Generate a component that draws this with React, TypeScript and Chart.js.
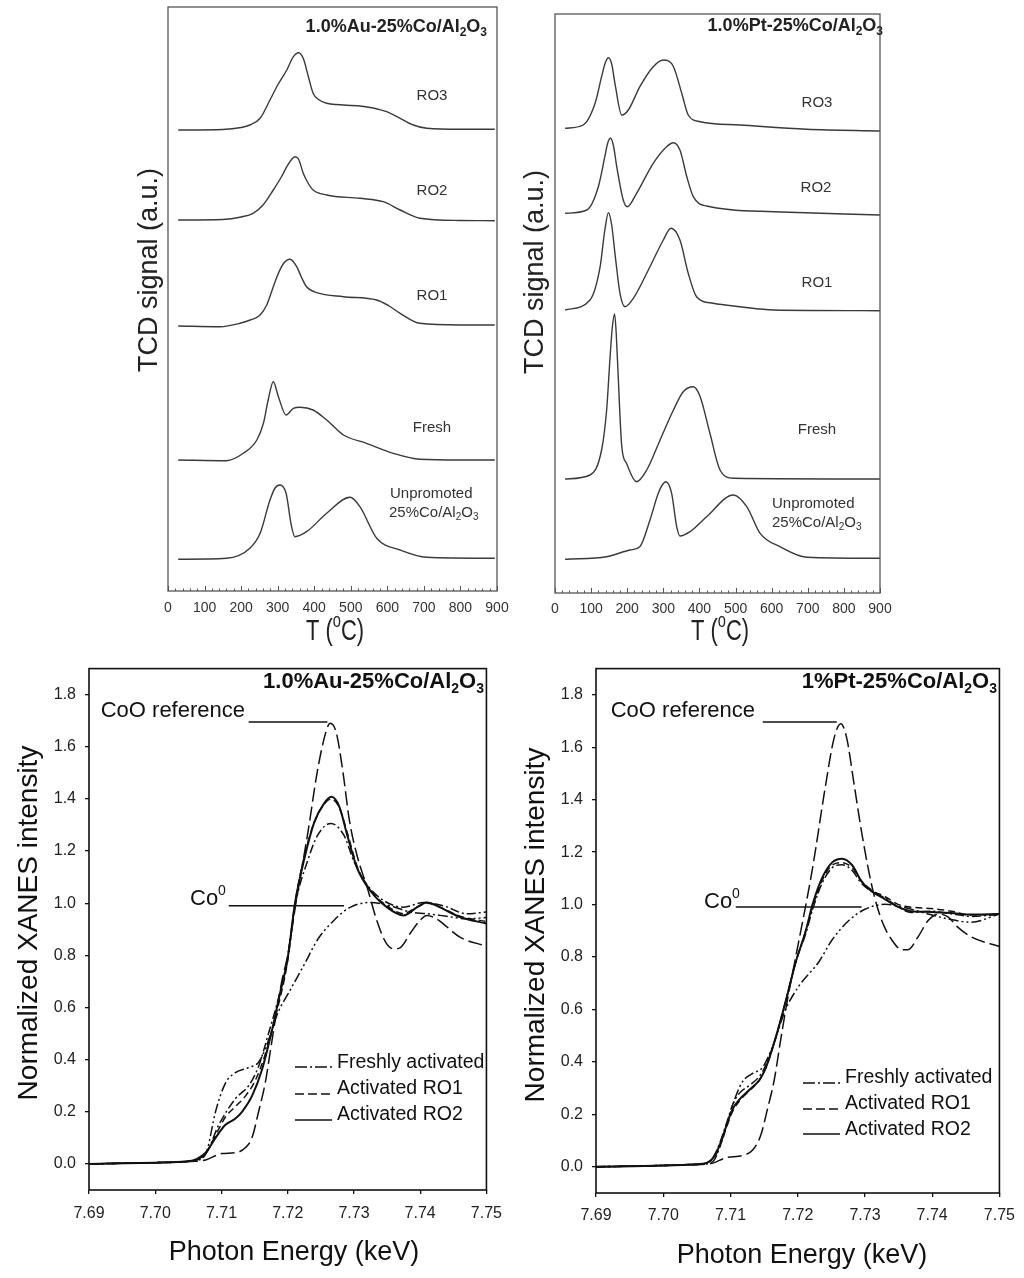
import React, { useEffect, useRef } from "react";
import { Chart, registerables } from "chart.js";

Chart.register(...registerables);

const FONT = "'Liberation Sans', Arial, Helvetica, sans-serif";

// ---------------- TPR (top panels) ----------------
const tprXTicks = [0, 100, 200, 300, 400, 500, 600, 700, 800, 900];
const tprXLabels = ["0", "100", "200", "300", "400", "500", "600", "700", "800", "900"];

// 1.0%Au-25%Co/Al2O3 TPR profiles (signal above own baseline, a.u.)
const auRO3T = [28, 150, 200, 224, 252, 279, 300, 325, 343, 357, 370, 384, 397, 411, 434, 525, 598, 635, 671, 708, 800, 894];
const auRO3S = [0, 0.05, 0.25, 0.5, 1.17, 3.0, 4.5, 6.0, 7.33, 7.73, 7.17, 5.33, 3.67, 3.07, 2.67, 2.4, 1.83, 1.17, 0.5, 0.17, 0.07, 0.07];
const auRO2T = [28, 150, 200, 233, 260, 288, 310, 325, 337, 347, 357, 370, 383, 397, 434, 525, 589, 635, 689, 800, 894];
const auRO2S = [0, 0.05, 0.3, 0.67, 1.5, 3.0, 4.3, 5.33, 6.0, 6.33, 6.1, 4.67, 3.7, 3.0, 2.5, 2.17, 1.83, 1.0, 0.17, -0.05, -0.07];
const auRO1T = [28, 142, 197, 225, 252, 270, 285, 300, 315, 334, 352, 366, 379, 407, 480, 571, 605, 635, 689, 800, 894];
const auRO1S = [-0.1, -0.17, 0.17, 0.5, 1.0, 2.0, 3.5, 5.0, 6.1, 6.57, 5.83, 4.7, 3.83, 3.23, 2.83, 2.5, 1.9, 1.17, 0.17, 0, 0];
const auFreshT = [28, 160, 206, 243, 261, 274, 288, 302, 323, 343, 361, 397, 434, 480, 543, 616, 689, 800, 894];
const auFreshS = [0, -0.07, 0.67, 2.0, 3.67, 6.0, 7.83, 6.33, 4.5, 5.17, 5.27, 5.0, 4.0, 2.5, 1.67, 0.67, 0.07, 0, 0];
const auUnpT = [28, 160, 224, 252, 279, 293, 306, 323, 338, 347, 379, 434, 498, 525, 571, 635, 708, 894];
const auUnpS = [0, 0.1, 1.1, 2.6, 5.93, 7.13, 7.43, 6.6, 3.26, 2.26, 2.76, 4.6, 6.2, 5.26, 2.1, 0.93, 0.2, 0.1];
// stacking offsets: RO3, RO2, RO1, Fresh, Unpromoted
const auOffsets = [46.1, 37.1, 26.6, 13.1, 3.17];

// 1.0%Pt-25%Co/Al2O3 TPR profiles
const ptRO3T = [28, 78, 111, 129, 139, 148, 157, 166, 185, 203, 235, 272, 300, 328, 351, 369, 402, 512, 697, 900];
const ptRO3S = [0, 0.33, 2.5, 5.16, 6.53, 7.06, 6.43, 4.5, 1.33, 1.83, 4.16, 6.16, 6.83, 6.16, 3.5, 1.33, 0.66, 0.33, -0.1, -0.27];
const ptRO2T = [28, 88, 120, 138, 146, 154, 162, 171, 189, 200, 226, 272, 309, 328, 346, 365, 383, 420, 605, 900];
const ptRO2S = [0, 0.33, 2.66, 5.66, 7.03, 7.5, 6.73, 4.66, 1.33, 0.66, 2.0, 5.0, 6.66, 7.06, 6.33, 3.66, 1.66, 0.73, 0.16, -0.17];
const ptRO1T = [28, 97, 125, 138, 148, 157, 166, 180, 194, 217, 263, 300, 321, 346, 369, 392, 438, 512, 605, 900];
const ptRO1S = [0, 1.0, 4.33, 8.0, 9.73, 8.5, 5.67, 1.67, 0.33, 1.17, 4.33, 7.0, 8.17, 7.0, 3.67, 1.33, 0.67, 0.33, 0, -0.07];
const ptFreshT = [28, 97, 129, 143, 152, 158, 165, 169, 173, 185, 198, 226, 254, 291, 328, 355, 383, 402, 429, 457, 494, 900];
const ptFreshS = [0, 0.4, 2.9, 6.9, 11.9, 14.9, 16.5, 14.9, 11.9, 3.23, 1.57, -0.27, 0.9, 3.9, 6.9, 8.73, 9.23, 8.23, 4.57, 0.9, 0.07, 0];
const ptUnpT = [28, 143, 208, 235, 263, 286, 297, 307, 323, 337, 346, 374, 420, 494, 531, 568, 623, 697, 900];
const ptUnpS = [0, 0.26, 0.93, 1.26, 3.93, 6.6, 7.43, 7.76, 6.6, 3.26, 2.33, 2.76, 4.26, 6.43, 5.26, 2.6, 1.26, 0.2, 0.1];
const ptOffsets = [46.47, 37.97, 28.3, 11.4, 3.37];

// ---------------- XANES (bottom panels) ----------------
const xanesXTicks = [7.69, 7.7, 7.71, 7.72, 7.73, 7.74, 7.75];
const xanesXLabels = ["7.69", "7.70", "7.71", "7.72", "7.73", "7.74", "7.75"];
const xanesYTicks = [0, 0.2, 0.4, 0.6, 0.8, 1.0, 1.2, 1.4, 1.6, 1.8];
const xanesYLabels = ["0.0", "0.2", "0.4", "0.6", "0.8", "1.0", "1.2", "1.4", "1.6", "1.8"];

// Au panel
const auCoOE = [7.69, 7.7, 7.706, 7.7076, 7.7101, 7.7121, 7.7136, 7.7146, 7.7156, 7.7166, 7.7173, 7.7181, 7.7191, 7.72, 7.7213, 7.7231, 7.7245, 7.7258, 7.7264, 7.7273, 7.7283, 7.7293, 7.7305, 7.732, 7.7335, 7.7348, 7.736, 7.737, 7.7385, 7.74, 7.741, 7.7425, 7.744, 7.746, 7.75];
const auCoO = [0, 0.005, 0.01, 0.015, 0.04, 0.043, 0.062, 0.1, 0.2, 0.31, 0.42, 0.55, 0.7, 0.8, 1.01, 1.28, 1.51, 1.66, 1.69, 1.657, 1.51, 1.32, 1.18, 1.06, 0.93, 0.85, 0.825, 0.83, 0.885, 0.935, 0.953, 0.94, 0.91, 0.87, 0.835];
const auFoilE = [7.69, 7.7, 7.705, 7.707, 7.7078, 7.7091, 7.7106, 7.7121, 7.7141, 7.7156, 7.7166, 7.7186, 7.72, 7.7226, 7.7245, 7.727, 7.7295, 7.7325, 7.7355, 7.7385, 7.741, 7.744, 7.747, 7.75];
const auFoil = [0, 0.005, 0.01, 0.02, 0.05, 0.2, 0.31, 0.35, 0.37, 0.39, 0.44, 0.585, 0.65, 0.77, 0.86, 0.935, 0.985, 1.003, 0.99, 0.966, 0.96, 0.95, 0.94, 0.945];
const auFreshE = [7.69, 7.7, 7.705, 7.7076, 7.7096, 7.7121, 7.7141, 7.7156, 7.7171, 7.7186, 7.7198, 7.7211, 7.7231, 7.7245, 7.7265, 7.7285, 7.73, 7.732, 7.7345, 7.7375, 7.7405, 7.7435, 7.747, 7.75];
const auFresh = [0, 0.005, 0.01, 0.037, 0.15, 0.25, 0.3, 0.374, 0.5, 0.635, 0.76, 0.99, 1.17, 1.26, 1.306, 1.26, 1.16, 1.07, 1.01, 0.985, 1.003, 0.99, 0.96, 0.966];
const auRO1E = [7.69, 7.7, 7.705, 7.7076, 7.7091, 7.7106, 7.7121, 7.7136, 7.7151, 7.7166, 7.7181, 7.72, 7.7211, 7.7226, 7.724, 7.7255, 7.7266, 7.7278, 7.729, 7.7305, 7.7325, 7.735, 7.7375, 7.7395, 7.741, 7.743, 7.746, 7.75];
const auRO1 = [0, 0.005, 0.01, 0.04, 0.11, 0.18, 0.22, 0.26, 0.32, 0.42, 0.56, 0.78, 1.0, 1.19, 1.31, 1.38, 1.4, 1.365, 1.27, 1.14, 1.05, 0.99, 0.96, 0.985, 1.0, 0.985, 0.95, 0.93];
const auRO2E = [7.69, 7.7, 7.705, 7.7076, 7.7091, 7.7106, 7.7121, 7.7131, 7.7146, 7.7161, 7.7176, 7.7188, 7.72, 7.7211, 7.7226, 7.724, 7.7255, 7.7266, 7.7278, 7.729, 7.7305, 7.7325, 7.735, 7.7375, 7.7395, 7.741, 7.743, 7.746, 7.75];
const auRO2 = [0, 0.005, 0.01, 0.043, 0.1, 0.15, 0.174, 0.2, 0.26, 0.36, 0.51, 0.65, 0.79, 1.0, 1.18, 1.31, 1.383, 1.408, 1.37, 1.26, 1.134, 1.047, 0.984, 0.953, 0.984, 1.003, 0.984, 0.947, 0.922];

// Pt panel
const ptCoOE = [7.69, 7.7, 7.7064, 7.7074, 7.7094, 7.7118, 7.7133, 7.7145, 7.7155, 7.7165, 7.7175, 7.7185, 7.7197, 7.7222, 7.7241, 7.7254, 7.7264, 7.7273, 7.7283, 7.7296, 7.7311, 7.7325, 7.734, 7.7355, 7.7364, 7.7379, 7.7394, 7.7409, 7.7424, 7.7438, 7.7458, 7.75];
const ptCoO = [0, 0.005, 0.01, 0.014, 0.035, 0.043, 0.064, 0.12, 0.22, 0.33, 0.49, 0.64, 0.8, 1.138, 1.448, 1.634, 1.69, 1.634, 1.473, 1.262, 1.063, 0.939, 0.865, 0.828, 0.828, 0.877, 0.939, 0.964, 0.952, 0.914, 0.877, 0.84];
const ptFoilE = [7.69, 7.7, 7.706, 7.7074, 7.7094, 7.7108, 7.7118, 7.7133, 7.7148, 7.7162, 7.7182, 7.7202, 7.7231, 7.7251, 7.7276, 7.73, 7.733, 7.7359, 7.7394, 7.7424, 7.7458, 7.75];
const ptFoil = [0, 0.005, 0.01, 0.02, 0.157, 0.27, 0.325, 0.356, 0.38, 0.455, 0.6, 0.69, 0.78, 0.865, 0.939, 0.982, 1.001, 0.989, 0.964, 0.945, 0.933, 0.964];
const ptEdgeE = [7.69, 7.7, 7.705, 7.7064, 7.7074, 7.7084, 7.7094, 7.7103, 7.7113, 7.7128, 7.7143, 7.7153, 7.7167, 7.7182, 7.7197, 7.7212, 7.7222, 7.7236, 7.7251, 7.7266, 7.7281, 7.7295, 7.731, 7.733, 7.735, 7.7369, 7.7399, 7.7428, 7.7458, 7.75];
const ptFresh = [0, 0.005, 0.01, 0.015, 0.035, 0.09, 0.165, 0.235, 0.28, 0.31, 0.345, 0.39, 0.49, 0.63, 0.78, 0.89, 0.98, 1.08, 1.14, 1.152, 1.13, 1.08, 1.05, 1.025, 0.99, 0.97, 0.975, 0.965, 0.955, 0.963];
const ptRO1 = [0, 0.005, 0.01, 0.014, 0.03, 0.075, 0.15, 0.21, 0.25, 0.29, 0.33, 0.38, 0.49, 0.63, 0.78, 0.9, 0.99, 1.09, 1.15, 1.16, 1.14, 1.09, 1.055, 1.03, 1.0, 0.99, 0.985, 0.975, 0.96, 0.964];
const ptRO2 = [0, 0.005, 0.01, 0.014, 0.033, 0.083, 0.157, 0.219, 0.256, 0.293, 0.331, 0.38, 0.49, 0.63, 0.78, 0.9, 1.0, 1.1, 1.16, 1.175, 1.15, 1.088, 1.051, 1.02, 0.99, 0.975, 0.972, 0.968, 0.962, 0.964];

const legendLabels = ["Freshly activated", "Activated RO1", "Activated RO2"];

// ---------------- helpers ----------------
type Seg = { t: string; s?: "sub" | "sup" };
type TextItem = {
  x: number; y: number; segs: Seg[]; size: number; bold?: boolean;
  align?: "left" | "right" | "center"; sx?: number; rot?: boolean; color?: string;
};

const DASH_COO = [14, 5];
const DASH_RO1 = [7, 4];
const DASH_FRESH = [9, 3, 2, 3];
const DASH_FOIL = [10, 3, 2, 3, 2, 3];

function pts(xs: number[], ys: number[], off = 0) {
  return xs.map((x, i) => ({ x, y: ys[i] + off }));
}

function drawRich(ctx: CanvasRenderingContext2D, it: TextItem) {
  const size = it.size;
  const fontFor = (s?: string) => `${it.bold ? "bold " : ""}${s ? Math.round(size * 0.65) : size}px ${FONT}`;
  ctx.save();
  ctx.translate(it.x, it.y);
  if (it.sx) ctx.scale(it.sx, 1);
  if (it.rot) ctx.rotate(-Math.PI / 2);
  let total = 0;
  const widths = it.segs.map((seg) => {
    ctx.font = fontFor(seg.s);
    const w = ctx.measureText(seg.t).width;
    total += w;
    return w;
  });
  let cx = it.align === "right" ? -total : it.align === "center" ? -total / 2 : 0;
  const baseY = it.rot ? size * 0.36 : 0;
  ctx.fillStyle = it.color || "#111";
  ctx.textAlign = "left";
  ctx.textBaseline = "alphabetic";
  it.segs.forEach((seg, i) => {
    ctx.font = fontFor(seg.s);
    const dy = seg.s === "sub" ? size * 0.22 : seg.s === "sup" ? -size * 0.45 : 0;
    ctx.fillText(seg.t, cx, baseY + dy);
    cx += widths[i];
  });
  ctx.restore();
}

function decoPlugin(d: any) {
  return {
    id: "deco",
    afterDraw(chart: any) {
      const ctx = chart.ctx as CanvasRenderingContext2D;
      const { left, right, top, bottom } = chart.chartArea;
      const xs = chart.scales.x;
      const ys = chart.scales.y;
      ctx.save();
      // frame
      ctx.strokeStyle = d.frameColor;
      ctx.lineWidth = d.frameWidth;
      ctx.setLineDash([]);
      ctx.strokeRect(left, top, right - left, bottom - top);
      // inward ticks for TPR
      if (d.minorStep) {
        ctx.lineWidth = 1;
        for (let k = 0; k <= 900 / d.minorStep; k++) {
          const v = k * d.minorStep;
          const px = Math.round(xs.getPixelForValue(v)) + 0.5;
          const len = v % 100 === 0 ? 5 : 2.5;
          ctx.beginPath();
          ctx.moveTo(px, bottom);
          ctx.lineTo(px, bottom - len);
          ctx.stroke();
        }
      }
      // annotation lines (data coords)
      (d.lines || []).forEach((l: any) => {
        ctx.strokeStyle = "#111";
        ctx.lineWidth = 1.5;
        ctx.setLineDash([]);
        const y = ys.getPixelForValue(l.y);
        ctx.beginPath();
        ctx.moveTo(xs.getPixelForValue(l.x0), y);
        ctx.lineTo(xs.getPixelForValue(l.x1), y);
        ctx.stroke();
      });
      // legend
      if (d.legend) {
        const lg = d.legend;
        lg.rows.forEach((r: any, i: number) => {
          ctx.strokeStyle = "#111";
          ctx.lineWidth = 1.6;
          ctx.setLineDash(r.dash);
          ctx.beginPath();
          ctx.moveTo(lg.x0, r.y);
          ctx.lineTo(lg.x1, r.y);
          ctx.stroke();
          ctx.setLineDash([]);
          drawRich(ctx, { x: lg.textX, y: r.ty, segs: [{ t: legendLabels[i] }], size: lg.size, color: "#111" });
        });
      }
      (d.texts || []).forEach((t: TextItem) => drawRich(ctx, t));
      ctx.restore();
    },
  };
}

function tprConfig(p: any) {
  const ds = p.series.map((s: any) => ({
    data: pts(s[0], s[1], s[2]),
    borderColor: "#3a3a3a",
    borderWidth: 1.4,
    pointRadius: 0,
    fill: false,
    cubicInterpolationMode: "monotone",
  }));
  return {
    type: "line",
    data: { datasets: ds },
    options: {
      responsive: false,
      animation: false,
      devicePixelRatio: 1,
      events: [],
      layout: { padding: p.padding },
      plugins: { legend: { display: false }, tooltip: { enabled: false } },
      scales: {
        x: {
          type: "linear",
          min: 0,
          max: 900,
          afterBuildTicks: (s: any) => { s.ticks = tprXTicks.map((v) => ({ value: v })); },
          afterFit: (s: any) => { s.height = p.xHeight; },
          ticks: {
            autoSkip: false, maxRotation: 0, padding: p.tickPad, color: "#333",
            font: { family: FONT, size: 14 },
            callback: (_v: any, i: number) => tprXLabels[i],
          },
          grid: { display: false, drawTicks: false },
          border: { display: false },
        },
        y: {
          type: "linear",
          min: 0,
          max: p.yMax,
          afterFit: (s: any) => { s.width = p.yWidth; },
          ticks: { display: false },
          grid: { display: false, drawTicks: false },
          border: { display: false },
        },
      },
    },
    plugins: [decoPlugin(p.deco)],
  };
}

function xanesConfig(p: any) {
  const ds = p.series.map((s: any) => ({
    data: pts(s[0], s[1]),
    borderColor: "#111",
    borderWidth: s[3],
    borderDash: s[2],
    pointRadius: 0,
    fill: false,
    cubicInterpolationMode: "monotone",
  }));
  return {
    type: "line",
    data: { datasets: ds },
    options: {
      responsive: false,
      animation: false,
      devicePixelRatio: 1,
      events: [],
      layout: { padding: p.padding },
      plugins: { legend: { display: false }, tooltip: { enabled: false } },
      scales: {
        x: {
          type: "linear",
          min: 7.69,
          max: 7.75,
          afterBuildTicks: (s: any) => { s.ticks = xanesXTicks.map((v) => ({ value: v })); },
          afterFit: (s: any) => { s.height = p.xHeight; },
          ticks: {
            autoSkip: false, maxRotation: 0, padding: p.xPad, color: "#222",
            font: { family: FONT, size: 16 },
            callback: (_v: any, i: number) => xanesXLabels[i],
          },
          grid: { display: true, drawOnChartArea: false, drawTicks: true, tickLength: 4, color: "#111", lineWidth: 1.3 },
          border: { display: false },
        },
        y: {
          type: "linear",
          min: -0.1,
          max: 1.9,
          afterBuildTicks: (s: any) => { s.ticks = xanesYTicks.map((v) => ({ value: v })); },
          afterFit: (s: any) => { s.width = p.yWidth; },
          ticks: {
            autoSkip: false, padding: p.yPad, color: "#222",
            font: { family: FONT, size: 16 },
            callback: (_v: any, i: number) => xanesYLabels[i],
          },
          grid: { display: true, drawOnChartArea: false, drawTicks: true, tickLength: 4, color: "#111", lineWidth: 1.3 },
          border: { display: false },
        },
      },
    },
    plugins: [decoPlugin(p.deco)],
  };
}

function Panel(props: { left: number; top: number; width: number; height: number; build: () => any }) {
  const ref = useRef<HTMLCanvasElement>(null);
  useEffect(() => {
    const chart = new Chart(ref.current as HTMLCanvasElement, props.build());
    return () => chart.destroy();
  }, []);
  return (
    <canvas
      ref={ref}
      width={props.width}
      height={props.height}
      style={{ position: "absolute", left: props.left, top: props.top, width: props.width, height: props.height }}
    />
  );
}

const G = "#333";
const sub2: Seg[] = [{ t: "2", s: "sub" }];

function buildAuTPR() {
  return tprConfig({
    series: [
      [auRO3T, auRO3S, auOffsets[0]],
      [auRO2T, auRO2S, auOffsets[1]],
      [auRO1T, auRO1S, auOffsets[2]],
      [auFreshT, auFreshS, auOffsets[3]],
      [auUnpT, auUnpS, auOffsets[4]],
    ],
    padding: { left: 0, top: 7, right: 23, bottom: 0 },
    yWidth: 168,
    xHeight: 59,
    yMax: 58.4,
    tickPad: 9,
    deco: {
      frameColor: "#555",
      frameWidth: 1.3,
      minorStep: 20,
      texts: [
        { x: 487, y: 32, segs: [{ t: "1.0%Au-25%Co/Al" }, ...sub2, { t: "O" }, { t: "3", s: "sub" }], size: 18, bold: true, align: "right", color: "#222" },
        { x: 432, y: 100, segs: [{ t: "RO3" }], size: 15, align: "center", color: G },
        { x: 432, y: 195, segs: [{ t: "RO2" }], size: 15, align: "center", color: G },
        { x: 432, y: 300, segs: [{ t: "RO1" }], size: 15, align: "center", color: G },
        { x: 432, y: 432, segs: [{ t: "Fresh" }], size: 15, align: "center", color: G },
        { x: 390, y: 498, segs: [{ t: "Unpromoted" }], size: 15, align: "left", color: G },
        { x: 389, y: 517, segs: [{ t: "25%Co/Al" }, ...sub2, { t: "O" }, { t: "3", s: "sub" }], size: 15, align: "left", color: G },
        { x: 335, y: 640, segs: [{ t: "T (" }, { t: "o", s: "sup" }, { t: "C)" }], size: 30, align: "center", sx: 0.73, color: "#222" },
        { x: 147, y: 270, segs: [{ t: "TCD signal (a.u.)" }], size: 27, align: "center", rot: true, color: "#222" },
      ],
    },
  });
}

function buildPtTPR() {
  return tprConfig({
    series: [
      [ptRO3T, ptRO3S, ptOffsets[0]],
      [ptRO2T, ptRO2S, ptOffsets[1]],
      [ptRO1T, ptRO1S, ptOffsets[2]],
      [ptFreshT, ptFreshS, ptOffsets[3]],
      [ptUnpT, ptUnpS, ptOffsets[4]],
    ],
    padding: { left: 0, top: 14, right: 144, bottom: 0 },
    yWidth: 35,
    xHeight: 57,
    yMax: 57.9,
    tickPad: 8,
    deco: {
      frameColor: "#555",
      frameWidth: 1.3,
      minorStep: 20,
      texts: [
        { x: 363, y: 31, segs: [{ t: "1.0%Pt-25%Co/Al" }, ...sub2, { t: "O" }, { t: "3", s: "sub" }], size: 18, bold: true, align: "right", color: "#222" },
        { x: 297, y: 107, segs: [{ t: "RO3" }], size: 15, align: "center", color: G },
        { x: 296, y: 192, segs: [{ t: "RO2" }], size: 15, align: "center", color: G },
        { x: 297, y: 287, segs: [{ t: "RO1" }], size: 15, align: "center", color: G },
        { x: 297, y: 434, segs: [{ t: "Fresh" }], size: 15, align: "center", color: G },
        { x: 252, y: 508, segs: [{ t: "Unpromoted" }], size: 15, align: "left", color: G },
        { x: 252, y: 527, segs: [{ t: "25%Co/Al" }, ...sub2, { t: "O" }, { t: "3", s: "sub" }], size: 15, align: "left", color: G },
        { x: 200, y: 640, segs: [{ t: "T (" }, { t: "o", s: "sup" }, { t: "C)" }], size: 30, align: "center", sx: 0.73, color: "#222" },
        { x: 13, y: 272, segs: [{ t: "TCD signal (a.u.)" }], size: 27, align: "center", rot: true, color: "#222" },
      ],
    },
  });
}

function buildAuXANES() {
  return xanesConfig({
    series: [
      [auCoOE, auCoO, DASH_COO, 1.5],
      [auFoilE, auFoil, DASH_FOIL, 1.5],
      [auFreshE, auFresh, DASH_FRESH, 1.5],
      [auRO1E, auRO1, DASH_RO1, 1.5],
      [auRO2E, auRO2, [], 2],
    ],
    padding: { left: 0, top: 6, right: 22, bottom: 0 },
    yWidth: 89,
    xHeight: 88,
    xPad: 10,
    yPad: 9,
    deco: {
      frameColor: "#111",
      frameWidth: 1.6,
      lines: [
        { x0: 7.7141, x1: 7.726, y: 1.695 },
        { x0: 7.7111, x1: 7.7285, y: 0.99 },
      ],
      legend: {
        x0: 295, x1: 332, textX: 337, size: 19.5,
        rows: [
          { y: 417, ty: 418, dash: [12, 3, 2, 3] },
          { y: 444, ty: 444, dash: [9, 4] },
          { y: 470, ty: 470, dash: [] },
        ],
      },
      texts: [
        { x: 484, y: 38, segs: [{ t: "1.0%Au-25%Co/Al" }, ...sub2, { t: "O" }, { t: "3", s: "sub" }], size: 22, bold: true, align: "right" },
        { x: 245, y: 67, segs: [{ t: "CoO reference" }], size: 22, align: "right" },
        { x: 190, y: 255, segs: [{ t: "Co" }, { t: "0", s: "sup" }], size: 22, align: "left" },
        { x: 294, y: 610, segs: [{ t: "Photon Energy (keV)" }], size: 27, align: "center" },
        { x: 27, y: 273, segs: [{ t: "Normalized XANES intensity" }], size: 28, align: "center", rot: true },
      ],
    },
  });
}

function buildPtXANES() {
  return xanesConfig({
    series: [
      [ptCoOE, ptCoO, DASH_COO, 1.5],
      [ptFoilE, ptFoil, DASH_FOIL, 1.5],
      [ptEdgeE, ptFresh, DASH_FRESH, 1.5],
      [ptEdgeE, ptRO1, DASH_RO1, 1.5],
      [ptEdgeE, ptRO2, [], 2],
    ],
    padding: { left: 0, top: 6, right: 22, bottom: 0 },
    yWidth: 84,
    xHeight: 85,
    xPad: 9,
    yPad: 9,
    deco: {
      frameColor: "#111",
      frameWidth: 1.6,
      lines: [
        { x0: 7.7148, x1: 7.7258, y: 1.696 },
        { x0: 7.7108, x1: 7.7295, y: 0.991 },
      ],
      legend: {
        x0: 291, x1: 328, textX: 333, size: 19.5,
        rows: [
          { y: 433, ty: 433, dash: [12, 3, 2, 3] },
          { y: 459, ty: 459, dash: [9, 4] },
          { y: 484, ty: 485, dash: [] },
        ],
      },
      texts: [
        { x: 485, y: 38, segs: [{ t: "1%Pt-25%Co/Al" }, ...sub2, { t: "O" }, { t: "3", s: "sub" }], size: 22, bold: true, align: "right" },
        { x: 243, y: 67, segs: [{ t: "CoO reference" }], size: 22, align: "right" },
        { x: 192, y: 258, segs: [{ t: "Co" }, { t: "0", s: "sup" }], size: 22, align: "left" },
        { x: 290, y: 613, segs: [{ t: "Photon Energy (keV)" }], size: 27, align: "center" },
        { x: 22, y: 275, segs: [{ t: "Normalized XANES intensity" }], size: 28, align: "center", rot: true },
      ],
    },
  });
}

export default function App() {
  return (
    <div style={{ position: "absolute", left: 0, top: 0, width: 1024, height: 1278, background: "#fff", overflow: "hidden" }}>
      <Panel left={0} top={0} width={520} height={650} build={buildAuTPR} />
      <Panel left={520} top={0} width={504} height={650} build={buildPtTPR} />
      <Panel left={0} top={650} width={512} height={628} build={buildAuXANES} />
      <Panel left={512} top={650} width={512} height={628} build={buildPtXANES} />
    </div>
  );
}
